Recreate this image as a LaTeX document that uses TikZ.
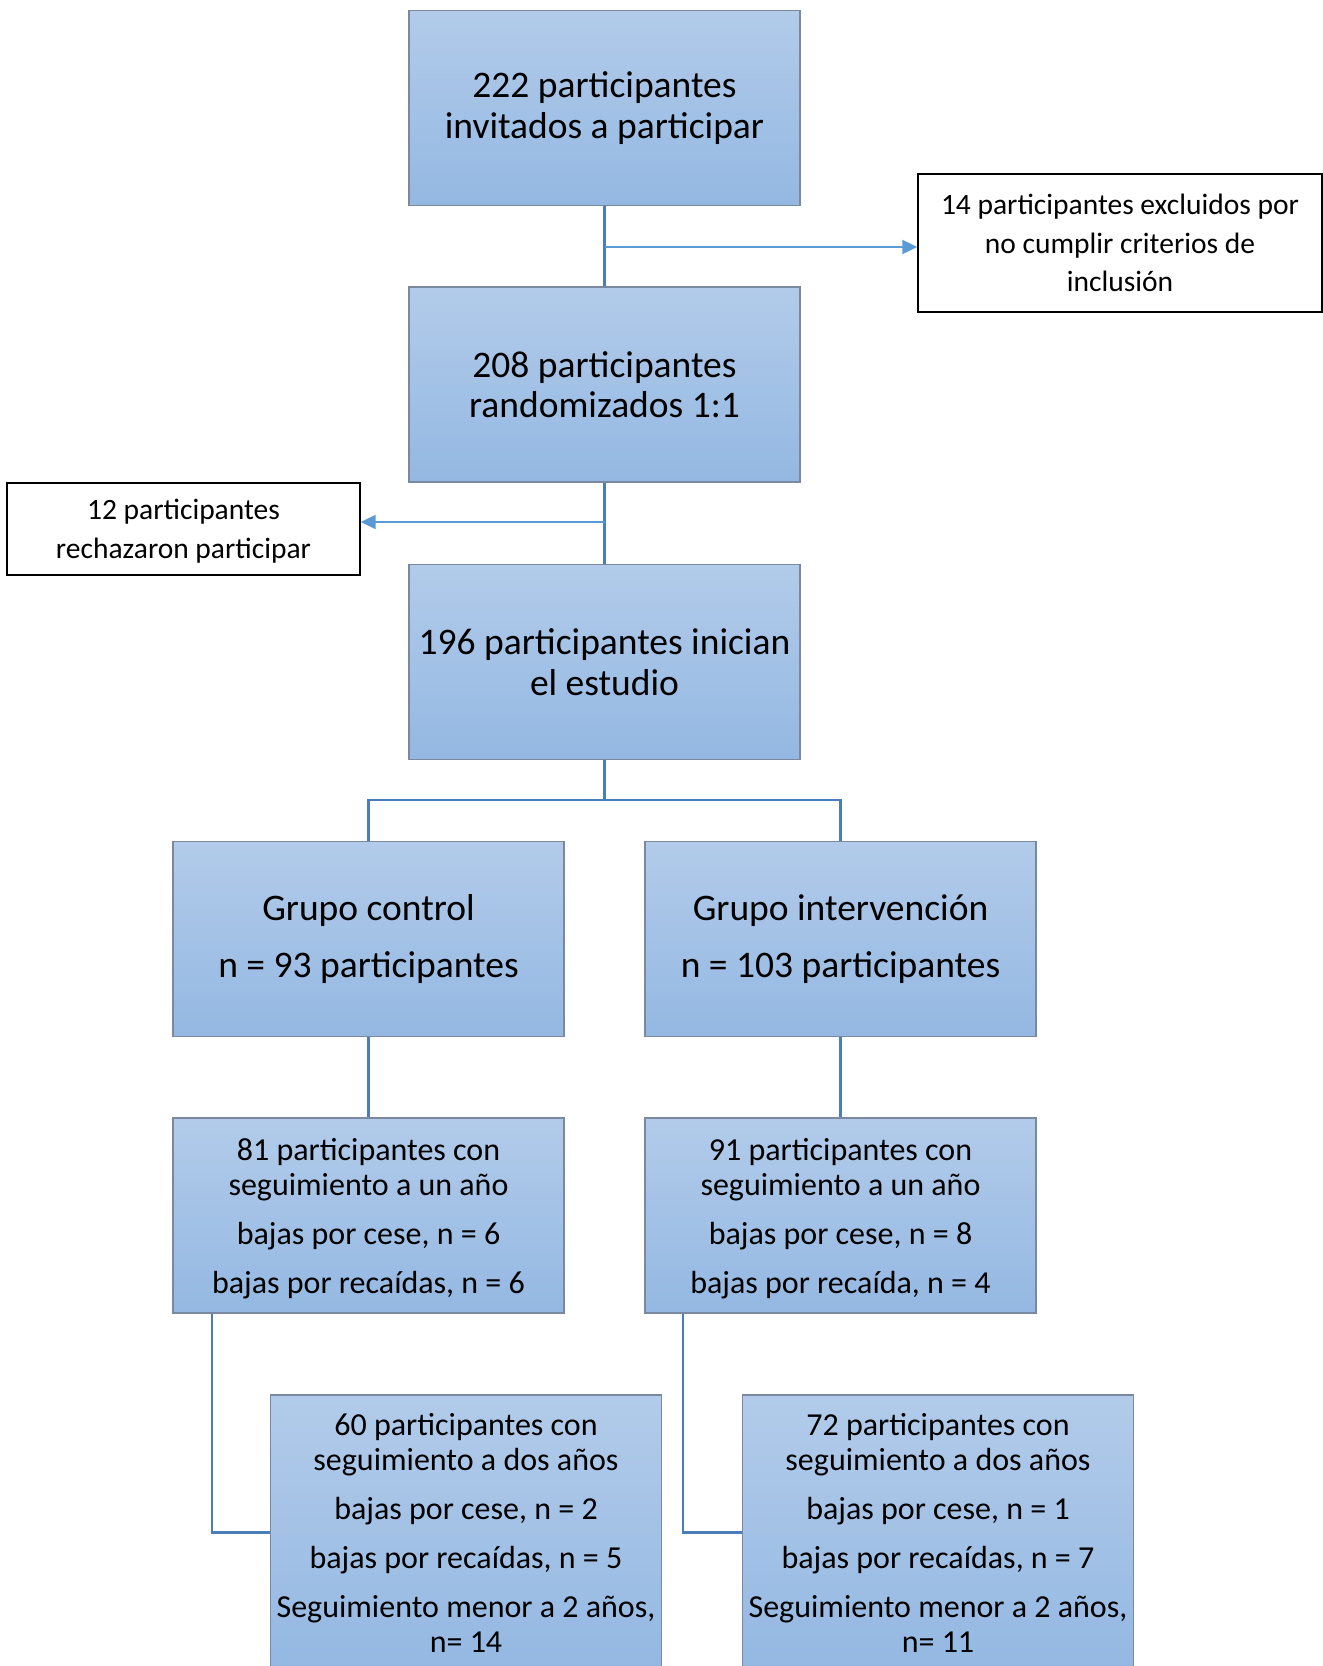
\documentclass[tikz,border=0pt]{standalone}
\usepackage{fontspec}
\setmainfont{Carlito}
\usetikzlibrary{arrows.meta}
\definecolor{boxtop}{RGB}{178,203,234}
\definecolor{boxbot}{RGB}{148,184,226}
\definecolor{boxline}{RGB}{122,136,160}
\definecolor{linkblue}{RGB}{74,126,187}
\definecolor{arrowblue}{RGB}{91,155,213}

\begin{document}
\begin{tikzpicture}[x=1pt,y=-1pt,
  flowbox/.style={draw=boxline, line width=1.3pt, top color=boxtop, bottom color=boxbot,
    minimum width=391pt, minimum height=195pt, align=center, inner sep=0pt},
  notebox/.style={draw=black, line width=1.4pt, fill=white, align=center, inner sep=0pt},
  link/.style={draw=linkblue, line width=2.2pt},
  arrowlink/.style={draw=arrowblue, line width=2.2pt, -{Triangle[length=15pt,width=14pt]}},
  big/.style={font=\fontsize{37.5}{40.5}\selectfont},
  mid/.style={font=\fontsize{32}{35}\selectfont},
  small/.style={font=\fontsize{29.5}{38.5}\selectfont}]

\useasboundingbox (0,0) rectangle (1323,1666);
\clip (0,0) rectangle (1323,1666);

% main column
\node[flowbox, big] (b1) at (604.5,108) {222 participantes\\invitados a participar};
\node[flowbox, big] (b2) at (604.5,384.5) {208 participantes\\randomizados 1:1};
\node[flowbox, big] (b3) at (604.5,662) {196 participantes inician\\el estudio};

% side notes
\node[notebox, small, minimum width=404pt, minimum height=138pt] (excl) at (1120,243)
  {14 participantes excluidos por\\no cumplir criterios de\\inclusión};
\node[notebox, small, text depth=0pt, minimum width=353pt, minimum height=92pt] (rej) at (183.5,529)
  {12 participantes\\rechazaron participar};

% groups
\node[flowbox, big] (ctrl) at (368.5,939) {Grupo control\\[16pt]n = 93 participantes};
\node[flowbox, big] (intv) at (840.5,939) {Grupo intervención\\[16pt]n = 103 participantes};

% one-year follow-up
\node[flowbox, mid, text depth=0pt] (c1) at (368.5,1215.5)
  {81 participantes con\\seguimiento a un año\\[14pt]bajas por cese, n = 6\\[14pt]bajas por recaídas, n = 6};
\node[flowbox, mid, text depth=0pt] (i1) at (840.5,1215.5)
  {91 participantes con\\seguimiento a un año\\[14pt]bajas por cese, n = 8\\[14pt]bajas por recaída, n = 4};

% two-year follow-up
\node[flowbox, mid, minimum height=275pt] (c2) at (466,1532.5)
  {60 participantes con\\seguimiento a dos años\\[14pt]bajas por cese, n = 2\\[14pt]bajas por recaídas, n = 5\\[14pt]Seguimiento menor a 2 años,\\n= 14};
\node[flowbox, mid, minimum height=275pt] (i2) at (938,1532.5)
  {72 participantes con\\seguimiento a dos años\\[14pt]bajas por cese, n = 1\\[14pt]bajas por recaídas, n = 7\\[14pt]Seguimiento menor a 2 años,\\n= 11};

% connectors
\draw[link] (b1.south) -- (b2.north);
\draw[link] (b2.south) -- (b3.north);
\coordinate (j1) at (604.5,247);
\coordinate (j2) at (604.5,522);
\draw[arrowlink] (j1) -- (excl.west |- j1);
\draw[arrowlink] (j2) -- (rej.east |- j2);
\coordinate (split) at ([yshift=-40pt]b3.south);
\draw[link] (b3.south) -- (split) -| (ctrl.north);
\draw[link] (split) -| (intv.north);
\draw[link] (ctrl.south) -- (c1.north);
\draw[link] (intv.south) -- (i1.north);
\draw[link] ([xshift=40pt]c1.south west) |- (c2.west);
\draw[link] ([xshift=39pt]i1.south west) |- (i2.west);
\end{tikzpicture}
\end{document}
